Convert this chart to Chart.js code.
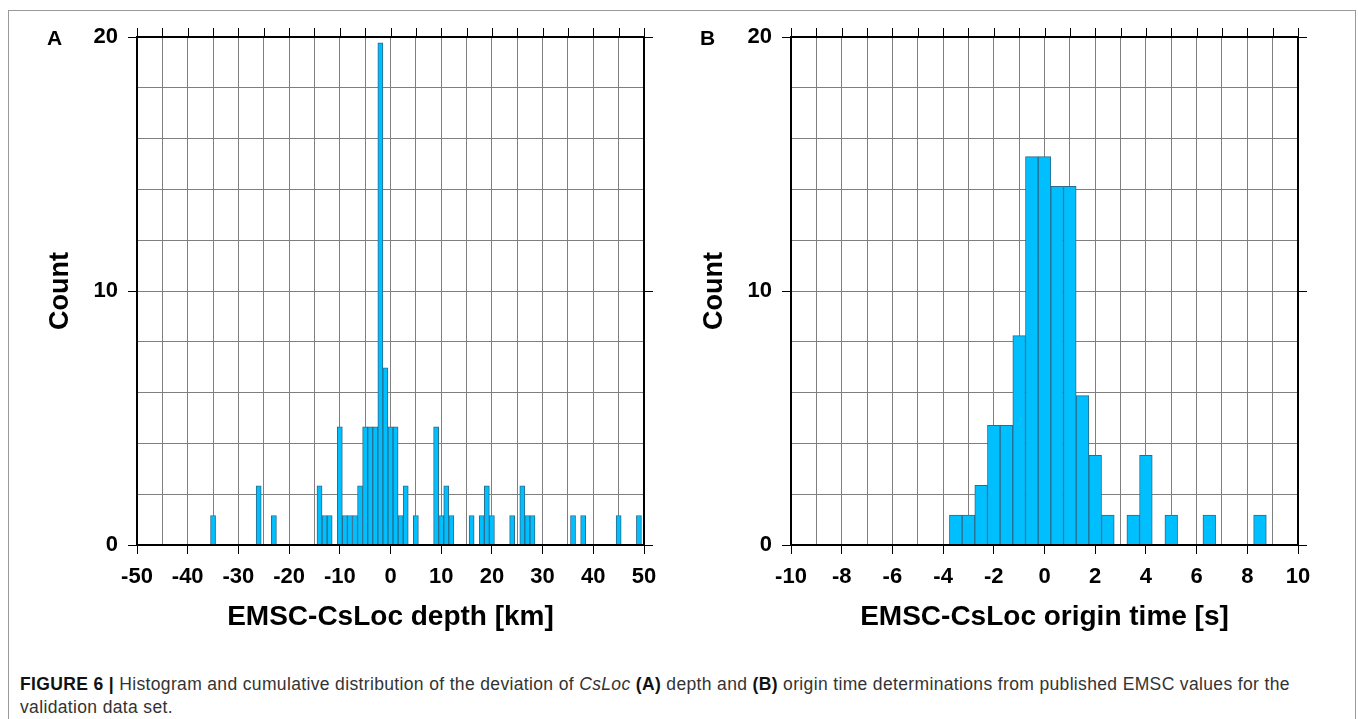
<!DOCTYPE html>
<html>
<head>
<meta charset="utf-8">
<script src="https://cdn.jsdelivr.net/npm/chart.js@4.4.1/dist/chart.umd.min.js"></script>
<style>
  body { margin: 0; width: 1358px; height: 719px; background: #fff; position: relative; overflow: hidden;
         font-family: 'Liberation Sans', Arial, Helvetica, sans-serif; }
  #box { position: absolute; left: 8px; top: 10px; width: 1348px; height: 730px; border: 1px solid #999; box-sizing: border-box; }
  .wrap { position: absolute; top: 0; height: 660px; }
  #wrapA { left: 0; width: 680px; }
  #wrapB { left: 654px; width: 704px; }
  .panel { position: absolute; top: 27px; font-weight: bold; font-size: 21px; line-height: 21px; color: #000; }
  #caption { position: absolute; left: 20px; top: 673px; font-size: 17.5px; letter-spacing: 0.35px; line-height: 23px; color: #333; white-space: nowrap; }
  #caption b { color: #111; }
</style>
</head>
<body>
<div id="box"></div>
<div class="wrap" id="wrapA"><canvas id="chartA" width="680" height="660"></canvas></div>
<div class="wrap" id="wrapB"><canvas id="chartB" width="704" height="660"></canvas></div>
<div class="panel" style="left:47px">A</div>
<div class="panel" style="left:700px">B</div>
<div id="caption"><b>FIGURE 6 |</b> Histogram and cumulative distribution of the deviation of <i>CsLoc</i> <b>(A)</b> depth and <b>(B)</b> origin time determinations from published EMSC values for the<br>validation data set.</div>

<script>
// panel A : depth difference, 1 km bins (bin centre) and share of events in %
const depthBins = [-35, -26, -23, -14, -13, -12, -10, -9, -8, -7, -6, -5, -4, -3, -2, -1, 0, 1, 2, 3, 5,
                   9, 10, 11, 12, 16, 18, 19, 20, 24, 26, 27, 28, 36, 38, 45, 49];
const depthPct = [1.16, 2.33, 1.16, 2.33, 1.16, 1.16, 4.65, 1.16, 1.16, 1.16, 2.33, 4.65, 4.65, 4.65, 19.77, 6.98, 4.65, 4.65, 1.16, 2.33, 1.16,
                  4.65, 1.16, 2.33, 1.16, 1.16, 1.16, 2.33, 1.16, 1.16, 2.33, 1.16, 1.16, 1.16, 1.16, 1.16, 1.16];

// panel B : origin time difference, 0.5 s bins
const timeBins = [-3.5, -3, -2.5, -2, -1.5, -1, -0.5, 0, 0.5, 1, 1.5, 2, 2.5, 3.5, 4, 5, 6.5, 8.5];
const timePct = [1.18, 1.18, 2.35, 4.71, 4.71, 8.24, 15.29, 15.29, 14.12, 14.12, 5.88, 3.53, 1.18, 1.18, 3.53, 1.18, 1.18, 1.18];

// tick labels
const depthTicks = [-50, -40, -30, -20, -10, 0, 10, 20, 30, 40, 50];
const timeTicks = [-10, -8, -6, -4, -2, 0, 2, 4, 6, 8, 10];
const countTicks = [0, 10, 20];

const BAR_FILL = '#00bfff';
const BAR_LINE = '#2a6c8c';
const GRID = '#7f7f7f';
const FONT = "'Liberation Sans', Arial, Helvetica, sans-serif";

// thick frame plus the small ticks on top and right side
const framePlugin = {
    id: 'frame',
    afterDraw(chart) {
        const c = chart.ctx;
        const a = chart.chartArea;
        const sx = chart.scales.x;
        const sy = chart.scales.y;
        c.save();
        c.strokeStyle = '#000';
        c.lineWidth = 1;
        c.beginPath();
        sx.ticks.forEach(t => {
            const px = Math.round(sx.getPixelForValue(t.value)) + 0.5;
            c.moveTo(px, a.top - 9);
            c.lineTo(px, a.top);
        });
        countTicks.forEach(v => {
            const py = Math.round(sy.getPixelForValue(v)) + 0.5;
            c.moveTo(a.right, py);
            c.lineTo(a.right + 9, py);
        });
        c.stroke();
        c.lineWidth = 2;
        c.strokeRect(a.left, a.top, a.right - a.left, a.bottom - a.top);
        c.restore();
    }
};

function drawHist(id, bins, pct, xMin, xMax, step, xTicks, title, padRight) {
    const ctx = document.querySelector(id);

    new Chart(ctx, {
        type: 'bar',
        data: {
            datasets: [{
                data: bins.map((b, i) => ({ x: b, y: pct[i] })),
                backgroundColor: BAR_FILL,
                borderColor: BAR_LINE,
                borderWidth: 1,
                barPercentage: 1,
                categoryPercentage: 1
            }]
        },
        options: {
            responsive: false,
            animation: false,
            layout: { padding: { left: 0, right: padRight, top: 37, bottom: 0 } },
            plugins: { legend: { display: false }, tooltip: { enabled: false } },
            scales: {
                x: {
                    type: 'linear',
                    min: xMin,
                    max: xMax,
                    offset: false,
                    border: { display: false },
                    grid: {
                        offset: false,
                        color: GRID,
                        lineWidth: 1,
                        tickLength: 9,
                        tickWidth: 1,
                        tickColor: (c) => xTicks.includes(c.tick.value) ? '#000' : 'rgba(0,0,0,0)'
                    },
                    ticks: {
                        stepSize: step,
                        autoSkip: false,
                        maxRotation: 0,
                        padding: 10,
                        color: '#000',
                        font: { family: FONT, size: 22, weight: 'bold' },
                        callback: (v) => xTicks.includes(v) ? String(v) : ''
                    },
                    title: {
                        display: true,
                        text: title,
                        color: '#000',
                        font: { family: FONT, size: 28, weight: 'bold' },
                        padding: { top: 0, bottom: 26 }
                    },
                    afterFit: (s) => { s.height = 115; s.paddingLeft = 0; s.paddingRight = 0; }
                },
                y: {
                    min: 0,
                    max: 20,
                    border: { display: false },
                    grid: {
                        color: GRID,
                        lineWidth: 1,
                        tickLength: 9,
                        tickWidth: 1,
                        tickColor: (c) => countTicks.includes(c.tick.value) ? '#000' : 'rgba(0,0,0,0)'
                    },
                    ticks: {
                        stepSize: 2,
                        autoSkip: false,
                        padding: 10,
                        color: '#000',
                        font: { family: FONT, size: 22, weight: 'bold' },
                        callback: (v) => countTicks.includes(v) ? String(v) : ''
                    },
                    title: {
                        display: true,
                        text: 'Count',
                        color: '#000',
                        font: { family: FONT, size: 27, weight: 'bold' },
                        padding: { top: 44, bottom: 0 }
                    },
                    afterFit: (s) => { s.width = 137; s.paddingTop = 0; s.paddingBottom = 0; }
                }
            }
        },
        plugins: [framePlugin]
    });
}

drawHist('#chartA', depthBins, depthPct, -50, 50, 5, depthTicks, 'EMSC-CsLoc depth [km]', 36);
drawHist('#chartB', timeBins, timePct, -10, 10, 1, timeTicks, 'EMSC-CsLoc origin time [s]', 60);
</script>
</body>
</html>
